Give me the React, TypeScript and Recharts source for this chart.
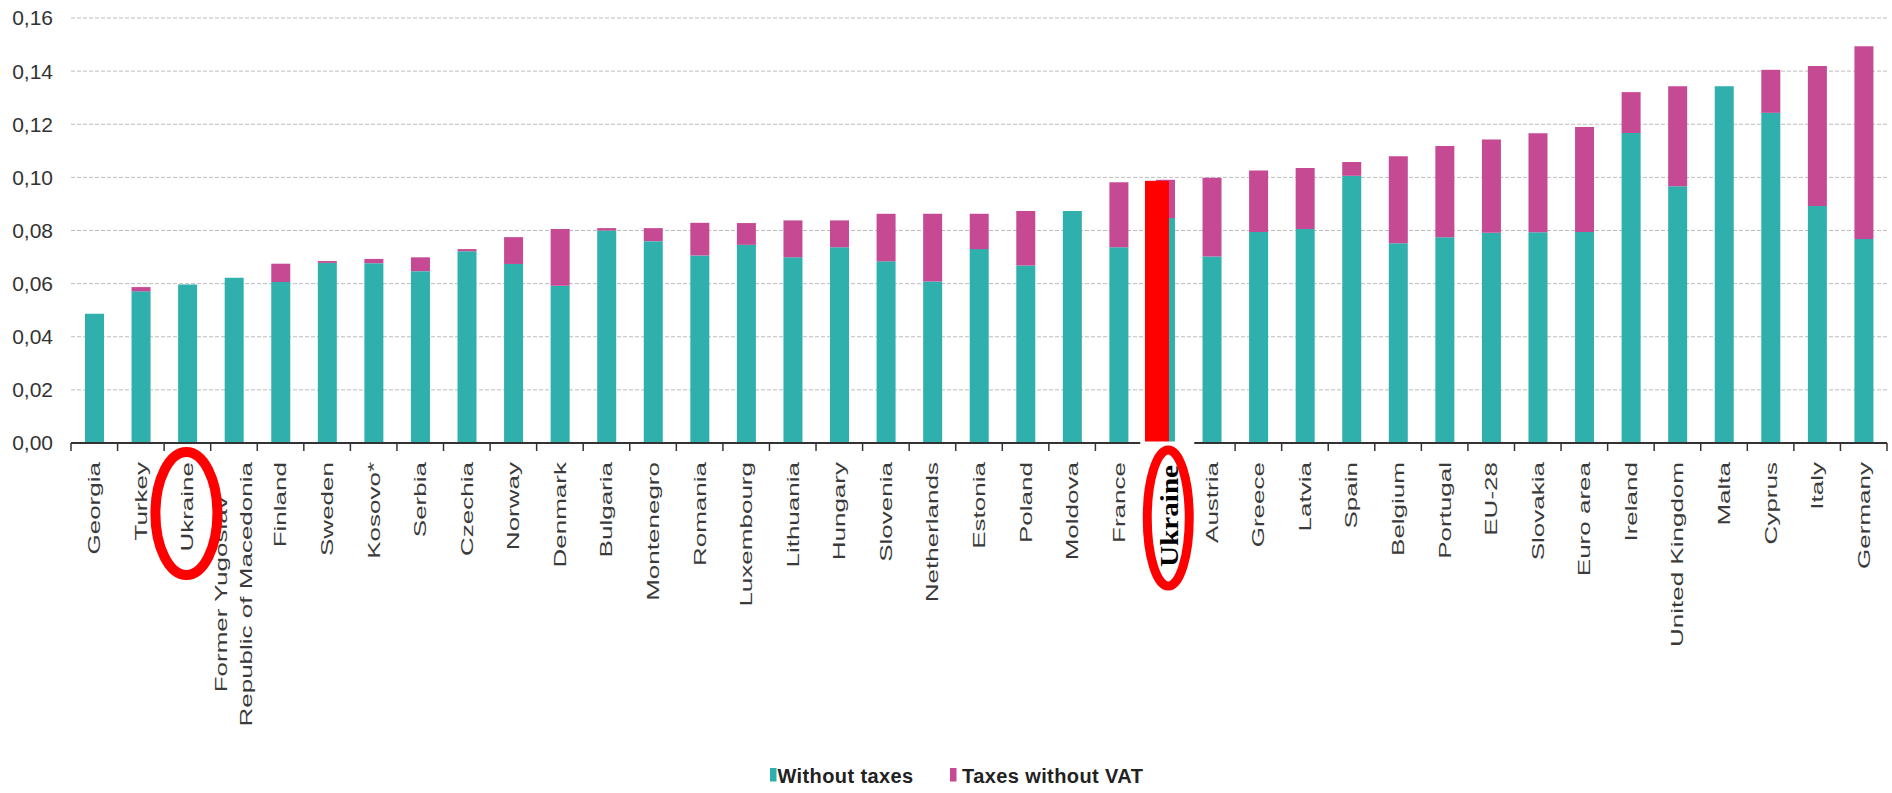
import React from 'react';
import { BarChart, Bar, XAxis, YAxis, CartesianGrid, Legend } from 'recharts';

// ---------- data ----------
const countries = [
  'Georgia', 'Turkey', 'Ukraine', 'Former Yugoslav\nRepublic of Macedonia', 'Finland', 'Sweden',
  'Kosovo*', 'Serbia', 'Czechia', 'Norway', 'Denmark', 'Bulgaria', 'Montenegro', 'Romania',
  'Luxembourg', 'Lithuania', 'Hungary', 'Slovenia', 'Netherlands', 'Estonia', 'Poland', 'Moldova',
  'France', 'Ukraine', 'Austria', 'Greece', 'Latvia', 'Spain', 'Belgium', 'Portugal', 'EU-28',
  'Slovakia', 'Euro area', 'Ireland', 'United Kingdom', 'Malta', 'Cyprus', 'Italy', 'Germany',
];

const withoutTaxes = [
  0.0487, 0.0571, 0.0597, 0.0622, 0.0606, 0.0678, 0.0677, 0.0647, 0.0722, 0.0674, 0.0592, 0.0800,
  0.0760, 0.0706, 0.0746, 0.0699, 0.0737, 0.0684, 0.0608, 0.0730, 0.0668, 0.0873, 0.0737, 0.0847,
  0.0702, 0.0794, 0.0806, 0.1006, 0.0752, 0.0775, 0.0792, 0.0793, 0.0794, 0.1167, 0.0967, 0.1343,
  0.1243, 0.0892, 0.0768,
];

const taxesWithoutVat = [
  0.0, 0.0016, 0.0, 0.0, 0.0069, 0.0007, 0.0016, 0.0052, 0.0008, 0.0101, 0.0214, 0.0009,
  0.0049, 0.0123, 0.0082, 0.0139, 0.0101, 0.0179, 0.0255, 0.0133, 0.0205, 0.0, 0.0245, 0.0144,
  0.0297, 0.0232, 0.0229, 0.0052, 0.0328, 0.0343, 0.0351, 0.0373, 0.0396, 0.0154, 0.0376, 0.0,
  0.0162, 0.0527, 0.0726,
];

// red highlight bar pasted over the second "Ukraine" slot
const markerIndex = 23;
const markerValue = 0.0987;
// slots whose labels are circled in red
const circledIndexes = [2, 23];

const yTicks = [0, 0.02, 0.04, 0.06, 0.08, 0.1, 0.12, 0.14, 0.16];

const seriesNames = ['Without taxes', 'Taxes without VAT'];
const seriesColors = ['#2FB0AD', '#C64A93'];

const data = countries.map((name, i) => ({
  name,
  withoutTaxes: withoutTaxes[i],
  taxesWithoutVat: taxesWithoutVat[i],
  marker: i === markerIndex ? markerValue : null,
}));

// ---------- layout ----------
const W = 1892;
const H = 793;
const MARGIN = { top: 18, right: 5, bottom: 0, left: 0 };
const Y_AXIS_W = 71;
const PLOT_H = 425;
const X_AXIS_H = H - MARGIN.top - MARGIN.bottom - PLOT_H;
const PLOT_W = W - MARGIN.left - MARGIN.right - Y_AXIS_W;
const SLOT = PLOT_W / countries.length;

const FONT = '"Liberation Sans", Arial, Helvetica, sans-serif';
const SERIF = '"Liberation Serif", "Times New Roman", serif';
const LABEL_SIZE = 17;
const LABEL_SX = 1.53;
const LABEL_GAP = 19;
const LINE_STEP = 25;

let measureCtx: CanvasRenderingContext2D | null = null;
function measure(text: string, font: string): number {
  if (typeof document === 'undefined') return text.length * 8;
  if (!measureCtx) measureCtx = document.createElement('canvas').getContext('2d');
  if (!measureCtx) return text.length * 8;
  measureCtx.font = font;
  return measureCtx.measureText(text).width;
}

function XTick(props: any) {
  const { x, y, payload, index } = props;
  const n = countries.length;
  const parts: React.ReactNode[] = [];
  parts.push(
    <line key="tl" x1={x - SLOT / 2} x2={x - SLOT / 2} y1={y} y2={y + 8} stroke="#333" strokeWidth={1.5} />
  );
  if (index === n - 1) {
    parts.push(
      <line key="tr" x1={x + SLOT / 2} x2={x + SLOT / 2} y1={y} y2={y + 8} stroke="#333" strokeWidth={1.5} />
    );
  }
  if (index !== markerIndex) {
    const lines = String(payload.value).split('\n');
    const multi = lines.length > 1;
    const maxLen = Math.max(...lines.map((l) => measure(l, `${LABEL_SIZE}px ${FONT}`)));
    parts.push(
      <g key="lbl" transform={`translate(${x},${y + LABEL_GAP}) rotate(-90) scale(${LABEL_SX},1)`}>
        {lines.map((l, i) => (
          <text
            key={i}
            x={multi ? -maxLen / 2 : 0}
            y={(i - (lines.length - 1) / 2) * LINE_STEP}
            dy="0.35em"
            textAnchor={multi ? 'middle' : 'end'}
            fontSize={LABEL_SIZE}
            fontFamily={FONT}
            fill="#3a3a3a"
          >
            {l}
          </text>
        ))}
      </g>
    );
  }
  // annotations drawn last so they sit on top of all labels and ticks
  if (index === n - 1) {
    const xm = x - (n - 1 - markerIndex) * SLOT;
    parts.push(<rect key="patch" x={xm - 25} y={y - 1.5} width={54} height={16} fill="#ffffff" />);
    parts.push(
      <g key="mlbl" transform={`translate(${xm + 4},${y + 22}) rotate(-90) scale(1.12,1)`}>
        <text textAnchor="end" dy="0.33em" fontFamily={SERIF} fontWeight="bold" fontSize={26} fill="#000">
          {countries[markerIndex]}
        </text>
      </g>
    );
    circledIndexes.forEach((k) => {
      const xc = x - (n - 1 - k) * SLOT;
      const isMarker = k === markerIndex;
      parts.push(
        <ellipse
          key={`e${k}`}
          cx={isMarker ? xc + 3 : xc - 1}
          cy={isMarker ? y + 75 : y + 70.5}
          rx={isMarker ? 21 : 31}
          ry={isMarker ? 68 : 61.5}
          fill="none"
          stroke="#FF0000"
          strokeWidth={isMarker ? 9 : 10}
        />
      );
    });
  }
  return <g>{parts}</g>;
}

const MarkerShape = (p: any) => {
  if (!p || p.height == null || !p.width) return null;
  return <rect x={p.x - 8} y={p.y} width={p.width} height={p.height} fill="#FF0000" />;
};

const LegendContent = () => {
  const items = [
    { rx: 770, tx: 777.5 },
    { rx: 950, tx: 962 },
  ];
  return (
    <svg width={W} height={38} style={{ overflow: 'visible', display: 'block' }}>
      {seriesNames.map((s, i) => (
        <g key={s}>
          <rect x={items[i].rx} y={13} width={6.5} height={13.5} fill={seriesColors[i]} />
          <text
            x={items[i].tx}
            y={27.5}
            fontFamily={FONT}
            fontWeight="bold"
            fontSize={20}
            letterSpacing={0.4}
            fill="#222"
          >
            {s}
          </text>
        </g>
      ))}
    </svg>
  );
};

export default function App() {
  return (
    <div style={{ position: 'absolute', left: 0, top: 0, width: W, height: H, background: '#fff' }}>
      <BarChart width={W} height={H} data={data} margin={MARGIN} style={{ fontFamily: FONT }}>
        <CartesianGrid vertical={false} stroke="#BDBDBD" strokeDasharray="4 2" />
        <YAxis
          width={Y_AXIS_W}
          domain={[0, 0.16]}
          ticks={yTicks}
          axisLine={false}
          tickLine={false}
          tickSize={0}
          tickMargin={18}
          tick={{ fill: '#333', fontSize: 21, fontFamily: FONT }}
          tickFormatter={(v: number) => v.toFixed(2).replace('.', ',')}
        />
        <XAxis
          dataKey="name"
          height={X_AXIS_H}
          interval={0}
          tickSize={0}
          tickMargin={0}
          tickLine={false}
          axisLine={{ stroke: '#333', strokeWidth: 2 }}
          tick={<XTick />}
        />
        <XAxis xAxisId="hl" dataKey="name" hide />
        <Bar dataKey="withoutTaxes" name={seriesNames[0]} stackId="a" fill={seriesColors[0]} barSize={19} isAnimationActive={false} />
        <Bar dataKey="taxesWithoutVat" name={seriesNames[1]} stackId="a" fill={seriesColors[1]} barSize={19} isAnimationActive={false} />
        <Bar
          dataKey="marker"
          xAxisId="hl"
          fill="#FF0000"
          barSize={24}
          legendType="none"
          shape={MarkerShape}
          isAnimationActive={false}
        />
        <Legend
          content={<LegendContent />}
          wrapperStyle={{ position: 'absolute', left: 0, top: 755, bottom: 'auto', width: W, height: 0 }}
        />
      </BarChart>
    </div>
  );
}
